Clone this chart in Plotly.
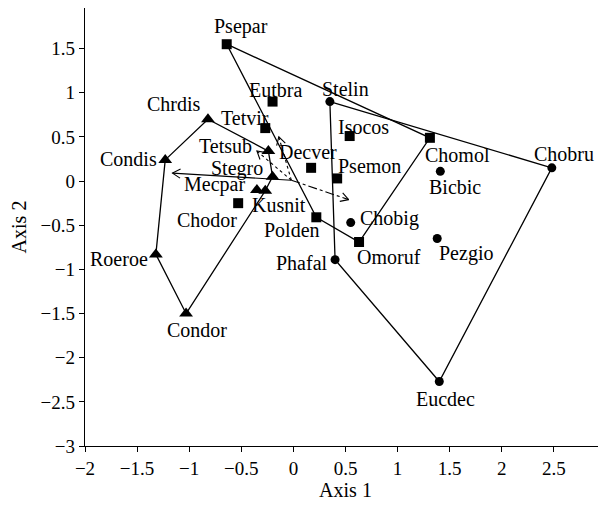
import math
import plotly.graph_objects as go

# ---------------- data ----------------
sq_names = ["Psepar", "Eutbra", "Tetvir", "Decver", "Isocos", "Psemon", "Chodor", "Polden", "Omoruf", "Chomol"]
sq_x = [-0.64, -0.20, -0.27, 0.17, 0.54, 0.42, -0.53, 0.22, 0.63, 1.31]
sq_y = [1.55, 0.90, 0.60, 0.15, 0.51, 0.03, -0.25, -0.41, -0.69, 0.49]

ci_names = ["Stelin", "Chobru", "Bicbic", "Chobig", "Pezgio", "Phafal", "Eucdec"]
ci_x = [0.35, 2.48, 1.41, 0.55, 1.38, 0.40, 1.40]
ci_y = [0.90, 0.15, 0.11, -0.47, -0.65, -0.89, -2.27]

tr_names = ["Chrdis", "Condis", "Tetsub", "Stegro", "Mecpar", "Kusnit", "Roeroe", "Condor"]
tr_x = [-0.82, -1.23, -0.24, -0.20, -0.35, -0.27, -1.32, -1.03]
tr_y = [0.70, 0.24, 0.34, 0.05, -0.10, -0.11, -0.83, -1.50]

# polygon outlines (vertex order)
sq_hull = ["Psepar", "Chomol", "Omoruf", "Polden"]
ci_hull = ["Stelin", "Chobru", "Eucdec", "Phafal"]
tr_hull = ["Condis", "Chrdis", "Tetsub", "Stegro", "Kusnit", "Condor", "Roeroe"]

# joint-plot vectors
vec_origin = (-0.02, 0.01)
vec_end_x = [-1.16, 0.53, -0.35, -0.14]
vec_end_y = [0.09, -0.21, 0.34, 0.50]
vec_dash = ["solid", "dashdot", "dot", "dot"]

x_ticks = [-2, -1.5, -1, -0.5, 0, 0.5, 1, 1.5, 2, 2.5]
y_ticks = [-3, -2.5, -2, -1.5, -1, -0.5, 0, 0.5, 1, 1.5]

# label offsets in pixels (dx right, dy down)
label_offsets = {
    "Psepar": (14, -18), "Eutbra": (3, -12), "Tetvir": (-20, -10), "Decver": (-3, -16),
    "Isocos": (14, -9), "Psemon": (32, -12), "Chodor": (-31, 17), "Polden": (-24, 13),
    "Omoruf": (30, 15), "Chomol": (28, 17), "Stelin": (16, -13), "Chobru": (12, -14),
    "Bicbic": (15, 16), "Chobig": (39, -4), "Pezgio": (29, 15), "Phafal": (-33, 3),
    "Eucdec": (6, 17), "Chrdis": (-34, -15), "Condis": (-37, -1), "Tetsub": (-43, -5),
    "Stegro": (-36, -8), "Mecpar": (-42, -5), "Kusnit": (14, 14), "Roeroe": (-37, 5),
    "Condor": (11, 16),
}

FONT = "Liberation Serif"
# page body has an 8px margin, so the figure is sized/offset to compensate
W, H = 598, 506
ML, MR, MT, MB = 77, 0, 0, 68
XR, YR = [-2, 3], [-3, 1.96]
sx = (W - ML - MR) / (XR[1] - XR[0])
sy = (H - MT - MB) / (YR[1] - YR[0])

pos = {}
for n, x, y in zip(sq_names, sq_x, sq_y):
    pos[n] = (x, y)
for n, x, y in zip(ci_names, ci_x, ci_y):
    pos[n] = (x, y)
for n, x, y in zip(tr_names, tr_x, tr_y):
    pos[n] = (x, y)

fig = go.Figure()
LW = 1.3

for hull in (sq_hull, ci_hull, tr_hull):
    hx = [pos[n][0] for n in hull] + [pos[hull[0]][0]]
    hy = [pos[n][1] for n in hull] + [pos[hull[0]][1]]
    fig.add_trace(go.Scatter(x=hx, y=hy, mode="lines", line=dict(color="black", width=LW),
                             hoverinfo="skip", showlegend=False))

# vectors with open arrowheads
L = 9.0
ang = math.radians(30)
for ex, ey, dash in zip(vec_end_x, vec_end_y, vec_dash):
    x0, y0 = vec_origin
    fig.add_trace(go.Scatter(x=[x0, ex], y=[y0, ey], mode="lines",
                             line=dict(color="black", width=1.1, dash=dash),
                             hoverinfo="skip", showlegend=False))
    dxp, dyp = (ex - x0) * sx, (ey - y0) * sy
    nrm = math.hypot(dxp, dyp)
    ux, uy = dxp / nrm, dyp / nrm
    hxs, hys = [], []
    for s in (1, -1):
        ca, sa = math.cos(s * ang), math.sin(s * ang)
        rx, ry = ux * ca - uy * sa, ux * sa + uy * ca
        hxs.append(ex - L * rx / sx)
        hys.append(ey - L * ry / sy)
    fig.add_trace(go.Scatter(x=[hxs[0], ex, hxs[1]], y=[hys[0], ey, hys[1]], mode="lines",
                             line=dict(color="black", width=1.1),
                             hoverinfo="skip", showlegend=False))

fig.add_trace(go.Scatter(x=sq_x, y=sq_y, mode="markers",
                         marker=dict(symbol="square", size=10, color="black"),
                         showlegend=False, text=sq_names))
fig.add_trace(go.Scatter(x=ci_x, y=ci_y, mode="markers",
                         marker=dict(symbol="circle", size=9, color="black"),
                         showlegend=False, text=ci_names))
fig.add_trace(go.Scatter(x=tr_x, y=tr_y, mode="markers",
                         marker=dict(symbol="triangle-up", size=12, color="black"),
                         showlegend=False, text=tr_names))

for n, (x, y) in pos.items():
    dx, dy = label_offsets[n]
    fig.add_annotation(x=x, y=y, text=n, showarrow=False, xshift=dx, yshift=-dy,
                       font=dict(family=FONT, size=20, color="black"))

axis_common = dict(showline=True, linecolor="black", linewidth=1.3, ticks="outside",
                   ticklen=5, tickwidth=1.2, tickcolor="black", showgrid=False,
                   zeroline=False, automargin=False,
                   tickfont=dict(family=FONT, size=19, color="black"))

fig.update_layout(
    width=W, height=H,
    margin=dict(l=ML, r=MR, t=MT, b=MB, pad=0),
    paper_bgcolor="white", plot_bgcolor="white",
    xaxis=dict(range=XR, tickvals=x_ticks, **axis_common,
               title=dict(text="Axis 1", font=dict(family=FONT, size=20, color="black"), standoff=5)),
    yaxis=dict(range=YR, tickvals=y_ticks, **axis_common,
               title=dict(text="Axis 2", font=dict(family=FONT, size=20, color="black"), standoff=8)),
)

fig.write_html("out.html")
